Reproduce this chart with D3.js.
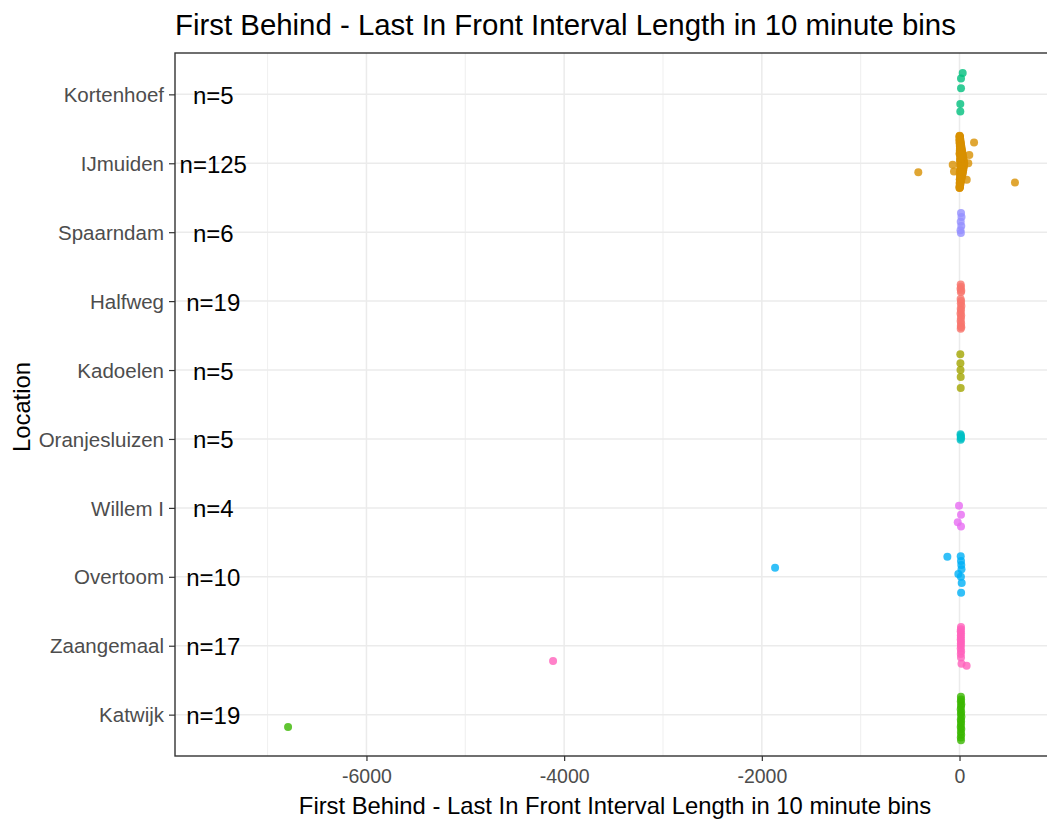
<!DOCTYPE html>
<html>
<head>
<meta charset="utf-8">
<script src="https://cdn.jsdelivr.net/npm/d3@7"></script>
<style>
  html, body { margin: 0; padding: 0; background: #fff; }
  svg { display: block; font-family: "Liberation Sans", Arial, sans-serif; }
</style>
</head>
<body>
<svg id="chart" width="1047" height="819"></svg>
<script>
// ---------------- data ----------------
const locations = ["Kortenhoef","IJmuiden","Spaarndam","Halfweg","Kadoelen","Oranjesluizen","Willem I","Overtoom","Zaangemaal","Katwijk"];
const counts = [5,125,6,19,5,5,4,10,17,19];
const palette = ["#00BF7D","#D89000","#9590FF","#F8766D","#A3A500","#00BFC4","#E76BF3","#00B0F6","#FF62BC","#39B600"];
const xMajorTicks = [-6000,-4000,-2000,0];
const xMinorTicks = [-7000,-5000,-3000,-1000];
const xDomain = [-7937, 966];
const nLabelValue = -7550;

const kortenhoefValues = [32,15,15,8,8];
const kortenhoefJitter = [0.31,0.23,0.09,-0.14,-0.25];

const ijmuidenValues = [
  2,0,4,1,6,3,8,2,10,5,12,1,14,7,16,3,18,9,20,4,22,11,25,6,28,13,30,2,33,15,
  35,8,38,18,40,5,42,21,45,10,48,24,46,3,44,27,41,12,39,30,37,7,34,20,32,1,29,16,26,9,
  23,13,20,4,17,11,14,6,11,2,8,5,6,1,4,2,1,
  1,3,2,5,8,3,12,6,19,9,26,14,31,17,22,4,25,8,15,2,9,4,3,0,3,6,13,1,27,7,
  36,11,19,6,3,0,11,22,15,28,
  147,99,-69,-56,89,73,-417,561];
const ijmuidenJitter = [
  0.40,0.39,0.38,0.37,0.36,0.35,0.34,0.33,0.32,0.31,0.30,0.29,0.28,0.27,0.26,0.25,0.24,0.23,0.22,0.21,
  0.20,0.19,0.18,0.17,0.16,0.15,0.14,0.13,0.12,0.11,0.10,0.09,0.08,0.07,0.06,0.05,0.04,0.03,0.02,0.01,
  0.00,-0.01,-0.02,-0.03,-0.04,-0.05,-0.06,-0.07,-0.08,-0.09,-0.10,-0.11,-0.12,-0.13,-0.14,-0.15,-0.16,-0.17,-0.18,-0.19,
  -0.20,-0.21,-0.22,-0.23,-0.24,-0.25,-0.26,-0.27,-0.28,-0.29,-0.30,-0.31,-0.32,-0.33,-0.34,-0.35,-0.36,
  0.395,0.345,0.305,0.265,0.225,0.185,0.155,0.125,0.095,0.065,0.035,0.005,-0.025,-0.055,-0.085,-0.115,-0.145,-0.175,-0.205,-0.235,
  -0.265,-0.295,-0.325,-0.355,0.375,0.285,0.205,0.145,0.085,0.025,-0.035,-0.095,-0.155,-0.215,-0.275,0.335,0.245,0.115,-0.045,-0.125,
  0.30,0.12,-0.02,-0.12,0.00,-0.24,-0.13,-0.28];

const spaarndamValues = [15,20,12,18,10,14];
const spaarndamJitter = [0.28,0.22,0.15,0.09,0.03,-0.01];

const halfwegValues = [12,15,10,18,14,11,16,13,19,12,15,10,17,14,11,16,13,18,12];
const halfwegJitter = [0.24,0.21,0.18,0.15,0.13,0.03,0.00,-0.03,-0.07,-0.11,-0.14,-0.18,-0.21,-0.25,-0.29,-0.32,-0.36,-0.38,-0.40];

const kadoelenValues = [8,9,10,12,12];
const kadoelenJitter = [0.23,0.10,0.00,-0.10,-0.26];

const oranjesluizenValues = [10,14,12,16,11];
const oranjesluizenJitter = [0.07,0.05,0.03,0.01,-0.01];

const willemValues = [-5,15,-18,15];
const willemJitter = [0.03,-0.10,-0.21,-0.27];

const overtoomValues = [12,-123,15,18,20,-12,14,22,16,-1866];
const overtoomJitter = [0.30,0.29,0.23,0.17,0.11,0.04,0.00,-0.09,-0.23,0.13];

const zaangemaalValues = [15,14,12,15,13,14,12,15,13,14,12,16,13,15,20,72,-4112];
const zaangemaalJitter = [0.27,0.24,0.21,0.18,0.15,0.12,0.09,0.06,0.03,0.00,-0.04,-0.08,-0.12,-0.17,-0.26,-0.29,-0.22];

const katwijkValues = [14,16,13,18,15,12,17,14,19,13,16,15,12,18,14,17,13,15,-6793];
const katwijkJitter = [0.26,0.22,0.19,0.15,0.12,0.08,0.04,0.01,-0.03,-0.07,-0.10,-0.14,-0.18,-0.21,-0.25,-0.29,-0.33,-0.37,-0.18];

const seriesValues = [kortenhoefValues, ijmuidenValues, spaarndamValues, halfwegValues, kadoelenValues,
  oranjesluizenValues, willemValues, overtoomValues, zaangemaalValues, katwijkValues];
const seriesJitter = [kortenhoefJitter, ijmuidenJitter, spaarndamJitter, halfwegJitter, kadoelenJitter,
  oranjesluizenJitter, willemJitter, overtoomJitter, zaangemaalJitter, katwijkJitter];

const titleText = "First Behind - Last In Front Interval Length in 10 minute bins";
const xTitleText = "First Behind - Last In Front Interval Length in 10 minute bins";
const yTitleText = "Location";

// ---------------- layout ----------------
const panel = { left: 175, top: 53, right: 1055, bottom: 756 };
const svg = d3.select("#chart");

const x = d3.scaleLinear().domain(xDomain).range([panel.left, panel.right]);
const yIdx = d3.scaleLinear().domain([-0.6, locations.length - 0.4]).range([panel.top, panel.bottom]);
const yCat = d3.scalePoint().domain(locations).range([yIdx(0), yIdx(locations.length - 1)]);

const points = [];
locations.forEach((loc, i) => {
  seriesValues[i].forEach((v, j) => {
    points.push({ loc, i, value: v, jitter: seriesJitter[i][j], color: palette[i] });
  });
});

// panel background
svg.append("rect").attr("x", panel.left).attr("y", panel.top)
  .attr("width", panel.right - panel.left).attr("height", panel.bottom - panel.top)
  .attr("fill", "#fff");

// grid
const grid = svg.append("g");
grid.selectAll("line.minor").data(xMinorTicks).join("line")
  .attr("x1", d => x(d)).attr("x2", d => x(d))
  .attr("y1", panel.top).attr("y2", panel.bottom)
  .attr("stroke", "#EBEBEB").attr("stroke-width", 0.8);
grid.selectAll("line.majorx").data(xMajorTicks).join("line")
  .attr("x1", d => x(d)).attr("x2", d => x(d))
  .attr("y1", panel.top).attr("y2", panel.bottom)
  .attr("stroke", "#EBEBEB").attr("stroke-width", 1.5);
grid.selectAll("line.majory").data(locations).join("line")
  .attr("x1", panel.left).attr("x2", panel.right)
  .attr("y1", d => yCat(d)).attr("y2", d => yCat(d))
  .attr("stroke", "#EBEBEB").attr("stroke-width", 1.5);

// points
svg.append("g").selectAll("circle").data(points).join("circle")
  .attr("cx", d => x(d.value))
  .attr("cy", d => yIdx(d.i - d.jitter))
  .attr("r", 4)
  .attr("fill", d => d.color)
  .attr("fill-opacity", 0.8);

// n labels
svg.append("g").selectAll("text").data(locations).join("text")
  .attr("x", x(nLabelValue))
  .attr("y", d => yCat(d) + 9.5)
  .attr("text-anchor", "middle")
  .attr("font-size", 24)
  .attr("fill", "#000")
  .text((d, i) => "n=" + counts[i]);

// panel border
svg.append("rect").attr("x", panel.left).attr("y", panel.top)
  .attr("width", panel.right - panel.left).attr("height", panel.bottom - panel.top)
  .attr("fill", "none").attr("stroke", "#333333").attr("stroke-width", 1.4);

// x axis
const xAxis = svg.append("g").attr("transform", `translate(0,${panel.bottom})`)
  .call(d3.axisBottom(x).tickValues(xMajorTicks).tickSize(5).tickPadding(8).tickFormat(d => String(d)));
xAxis.select(".domain").remove();
xAxis.selectAll(".tick line").attr("stroke", "#333333").attr("stroke-width", 1.2);
xAxis.selectAll(".tick text").attr("fill", "#4D4D4D").attr("font-size", 19.5)
  .attr("font-family", "Liberation Sans, Arial, sans-serif").attr("dy", "0.72em");

// y axis
const yAxis = svg.append("g").attr("transform", `translate(${panel.left},0)`)
  .call(d3.axisLeft(yCat).tickSize(6).tickPadding(5));
yAxis.select(".domain").remove();
yAxis.selectAll(".tick line").attr("stroke", "#333333").attr("stroke-width", 1.2);
yAxis.selectAll(".tick text").attr("fill", "#4D4D4D").attr("font-size", 20.5)
  .attr("font-family", "Liberation Sans, Arial, sans-serif").attr("dy", "0.35em");

// titles
svg.append("text").attr("x", panel.left).attr("y", 35)
  .attr("font-size", 29.4).attr("fill", "#000").text(titleText);

svg.append("text").attr("x", (panel.left + panel.right) / 2).attr("y", 814)
  .attr("text-anchor", "middle").attr("font-size", 23.8).attr("fill", "#000").text(xTitleText);

svg.append("text").attr("transform", "translate(30,407) rotate(-90)")
  .attr("text-anchor", "middle").attr("font-size", 23.8).attr("fill", "#000").text(yTitleText);
</script>
</body>
</html>
